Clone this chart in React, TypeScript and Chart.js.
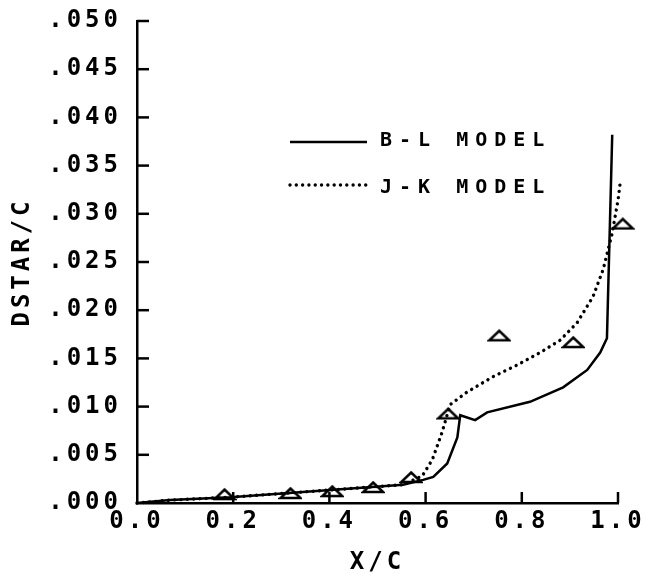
import React, { useEffect, useRef } from "react";
import { Chart, registerables } from "chart.js";

Chart.register(...registerables);

// B-L MODEL (solid)
const blX = [0, 0.069, 0.194, 0.402, 0.553, 0.595, 0.616, 0.645, 0.666, 0.672, 0.703, 0.728, 0.817, 0.886, 0.936, 0.963, 0.977, 0.988];
const blY = [0, 0.0003, 0.0006, 0.00135, 0.0019, 0.0024, 0.0027, 0.0041, 0.0068, 0.0091, 0.0086, 0.0094, 0.0105, 0.012, 0.0138, 0.0156, 0.0171, 0.0382];

// J-K MODEL (dotted)
const jkX = [0, 0.069, 0.194, 0.402, 0.553, 0.593, 0.614, 0.634, 0.651, 0.686, 0.74, 0.79, 0.838, 0.88, 0.915, 0.948, 0.969, 0.988, 1.0, 1.004];
const jkY = [0, 0.0003, 0.0006, 0.00135, 0.0019, 0.0028, 0.0045, 0.0073, 0.0102, 0.0115, 0.0131, 0.0143, 0.0156, 0.0169, 0.0187, 0.0214, 0.0242, 0.028, 0.0314, 0.033];

// Experiment (triangles)
const expX = [0.182, 0.319, 0.406, 0.491, 0.57, 0.647, 0.753, 0.907, 1.01];
const expY = [0.00093, 0.00104, 0.00124, 0.00166, 0.0027, 0.0093, 0.0174, 0.0167, 0.029];

const xMin = 0;
const xMax = 1;
const yMin = 0;
const yMax = 0.05;
const xTickStep = 0.2;
const yTickStep = 0.005;
const seriesLabels = ["B-L MODEL", "J-K MODEL"];
const xTitle = "X/C";
const yTitle = "DSTAR/C";

const FONT = "'DejaVu Sans Mono', monospace";

function makeTriangle(): HTMLCanvasElement {
  const c = document.createElement("canvas");
  c.width = 24;
  c.height = 14;
  const g = c.getContext("2d")!;
  g.strokeStyle = "#000";
  g.lineWidth = 2.5;
  g.lineJoin = "miter";
  g.beginPath();
  g.moveTo(2, 12);
  g.lineTo(22, 12);
  g.lineTo(12, 2.5);
  g.closePath();
  g.stroke();
  return c;
}

const spacingPlugin = {
  id: "spacing",
  beforeDraw(chart: any) {
    chart.ctx.letterSpacing = "4px";
  },
};

const innerTicks = {
  id: "innerTicks",
  afterDraw(chart: any) {
    const { ctx, chartArea, scales } = chart;
    ctx.save();
    ctx.strokeStyle = "#000";
    ctx.lineWidth = 2.5;
    scales.y.ticks.forEach((t: any) => {
      if (t.value === 0) return;
      const y = scales.y.getPixelForValue(t.value);
      ctx.beginPath();
      ctx.moveTo(chartArea.left, y);
      ctx.lineTo(chartArea.left + 12, y);
      ctx.stroke();
    });
    scales.x.ticks.forEach((t: any) => {
      if (t.value === 0) return;
      const x = scales.x.getPixelForValue(t.value);
      ctx.beginPath();
      ctx.moveTo(x, chartArea.bottom);
      ctx.lineTo(x, chartArea.bottom - 11);
      ctx.stroke();
    });
    ctx.restore();
  },
};

const legendPlugin = {
  id: "customLegend",
  afterDraw(chart: any) {
    const { ctx } = chart;
    const ds = chart.data.datasets;
    const rows = [
      { d: ds[0], y: 142, ty: 141 },
      { d: ds[1], y: 185, ty: 188 },
    ];
    ctx.save();
    ctx.letterSpacing = "7px";
    rows.forEach((r) => {
      ctx.strokeStyle = "#000";
      ctx.lineWidth = r.d.borderWidth;
      ctx.lineCap = r.d.borderCapStyle || "butt";
      ctx.setLineDash(r.d.borderDash || []);
      ctx.beginPath();
      ctx.moveTo(290, r.y);
      ctx.lineTo(367, r.y);
      ctx.stroke();
      ctx.setLineDash([]);
      ctx.fillStyle = "#000";
      ctx.font = `bold 20px ${FONT}`;
      ctx.textAlign = "left";
      ctx.textBaseline = "middle";
      ctx.fillText(r.d.label, 380, r.ty);
    });
    ctx.restore();
  },
};

export default function App() {
  const ref = useRef<HTMLCanvasElement>(null);
  useEffect(() => {
    const tri = makeTriangle();
    const tickFont = { family: FONT, size: 24, weight: "bold" as const };
    const chart = new Chart(ref.current!, {
      type: "scatter",
      data: {
        datasets: [
          {
            label: seriesLabels[0],
            data: blX.map((x, i) => ({ x, y: blY[i] })),
            showLine: true,
            borderColor: "#000",
            borderWidth: 2.5,
            pointRadius: 0,
            borderCapStyle: "butt",
            clip: false,
          } as any,
          {
            label: seriesLabels[1],
            data: jkX.map((x, i) => ({ x, y: jkY[i] })),
            showLine: true,
            borderColor: "#000",
            borderWidth: 3.4,
            borderDash: [0.01, 6.3],
            borderCapStyle: "round",
            pointRadius: 0,
            clip: false,
          } as any,
          {
            label: "EXP",
            data: expX.map((x, i) => ({ x, y: expY[i] })),
            showLine: false,
            pointStyle: tri,
            pointRadius: 10,
            clip: false,
          } as any,
        ],
      },
      options: {
        animation: false,
        responsive: false,
        layout: { padding: { left: 0, top: 21, right: 28, bottom: 0 } },
        plugins: { legend: { display: false }, tooltip: { enabled: false } },
        scales: {
          x: {
            type: "linear",
            afterDataLimits: (s: any) => {
              s.min = xMin;
              s.max = xMax;
            },
            afterFit: (s: any) => {
              s.height = 71;
              s.paddingLeft = 0;
              s.paddingRight = 0;
            },
            grid: { display: false, drawTicks: false },
            border: { display: true, color: "#000", width: 2.5 },
            ticks: {
              stepSize: xTickStep,
              padding: 4,
              color: "#000",
              maxRotation: 0,
              autoSkip: false,
              font: tickFont,
              callback: (v: any) => Number(v).toFixed(1),
            },
            title: {
              display: true,
              text: xTitle,
              color: "#000",
              font: tickFont,
              padding: { top: 0, bottom: -3 },
            },
          },
          y: {
            type: "linear",
            min: yMin,
            max: yMax,
            afterFit: (s: any) => {
              s.width = 137;
              s.paddingTop = 0;
              s.paddingBottom = 0;
            },
            grid: { display: false, drawTicks: false },
            border: { display: true, color: "#000", width: 2.5 },
            ticks: {
              stepSize: yTickStep,
              padding: 15,
              color: "#000",
              autoSkip: false,
              font: tickFont,
              callback: (v: any) => Number(v).toFixed(3).slice(1),
            },
            title: {
              display: true,
              text: yTitle,
              color: "#000",
              font: tickFont,
              padding: { top: 8, bottom: 0 },
            },
          },
        },
      },
      plugins: [spacingPlugin, innerTicks, legendPlugin],
    });
    return () => chart.destroy();
  }, []);
  return (
    <div style={{ position: "absolute", left: 0, top: 0, width: 646, height: 574, background: "#fff" }}>
      <canvas ref={ref} width={646} height={574} style={{ display: "block" }} />
    </div>
  );
}
